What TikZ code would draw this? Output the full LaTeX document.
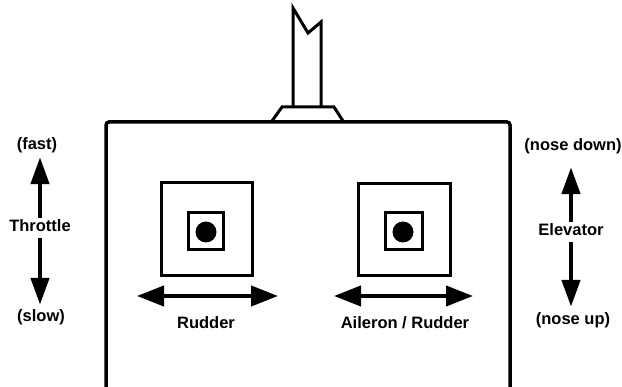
\documentclass[tikz,border=0pt]{standalone}
\usepackage{fontspec}
\setmainfont{Liberation Sans}
\usetikzlibrary{arrows.meta}
\newcommand{\lbfont}{\fontsize{16.5}{18}\selectfont\bfseries}
\tikzset{
  lbl/.style={font=\lbfont, inner sep=0pt, text height=11.5pt, text depth=3.5pt},
  arr/.style={line width=4.5pt, -{Triangle[length=27pt,width=18pt]}},
  harr/.style={line width=4pt, {Triangle[length=27pt,width=20pt]}-{Triangle[length=27pt,width=20pt]}},
  outerbox/.style={draw, line width=3pt, inner sep=0pt},
  innerbox/.style={draw, line width=3pt, inner sep=0pt},
  knob/.style={circle, fill, inner sep=0pt, minimum size=21pt},
  body/.style={line width=3.5pt, rounded corners=3pt},
  ant/.style={line width=3pt, line join=miter}
}
\begin{document}
\begin{tikzpicture}[x=1pt,y=-1pt]
\useasboundingbox (0,0) rectangle (622,387);
% body
\draw[body] (106,395) -- (106,122) -- (510,122) -- (510,395);
% antenna
\draw[ant] (272,121) -- (282,107) -- (334,107) -- (343,121);
\draw[ant] (293,107) -- (293,8) -- (308,33) -- (321,22) -- (321,107);
% left stick
\node[outerbox, minimum width=91pt, minimum height=93pt] (lbox) at (206.5,229.5) {};
\node[innerbox, minimum width=35pt, minimum height=37pt] (lin) at (205.5,231.5) {};
\node[knob] (lknob) at (206,232) {};
% right stick
\node[outerbox, minimum width=92pt, minimum height=92pt] (rbox) at (404,230) {};
\node[innerbox, minimum width=37pt, minimum height=37pt] (rin) at (403.5,231.5) {};
\node[knob] (rknob) at (403,232) {};
% horizontal arrows
\coordinate (rudL) at (137,296);
\coordinate (rudR) at (278,296);
\coordinate (ailL) at (334,296);
\coordinate (ailR) at (473,296);
\draw[harr] (rudL) -- (rudR);
\draw[harr] (ailL) -- (ailR);
\node[lbl] (rud) at (206,325) {Rudder};
\node[lbl] (ail) at (405,325) {Aileron / Rudder};
% throttle
\node[lbl] (fast) at (37,146) {(fast)};
\node[lbl] (thr) at (40,228) {Throttle};
\node[lbl] (slow) at (41,318) {(slow)};
\draw[arr, shorten <=2.5pt, shorten >=3.5pt] (thr.north) -- (thr.north |- fast.south);
\draw[arr, shorten <=2.5pt, shorten >=5.5pt] (thr.south) -- (thr.south |- slow.north);
% elevator
\node[lbl] (nd) at (573,147) {(nose down)};
\node[lbl] (elev) at (571,232) {Elevator};
\node[lbl] (nu) at (573,321) {(nose up)};
\draw[arr, shorten <=2.5pt, shorten >=12.5pt] (elev.north) -- (elev.north |- nd.south);
\draw[arr, shorten <=2.5pt, shorten >=6.5pt] (elev.south) -- (elev.south |- nu.north);
\end{tikzpicture}
\end{document}
